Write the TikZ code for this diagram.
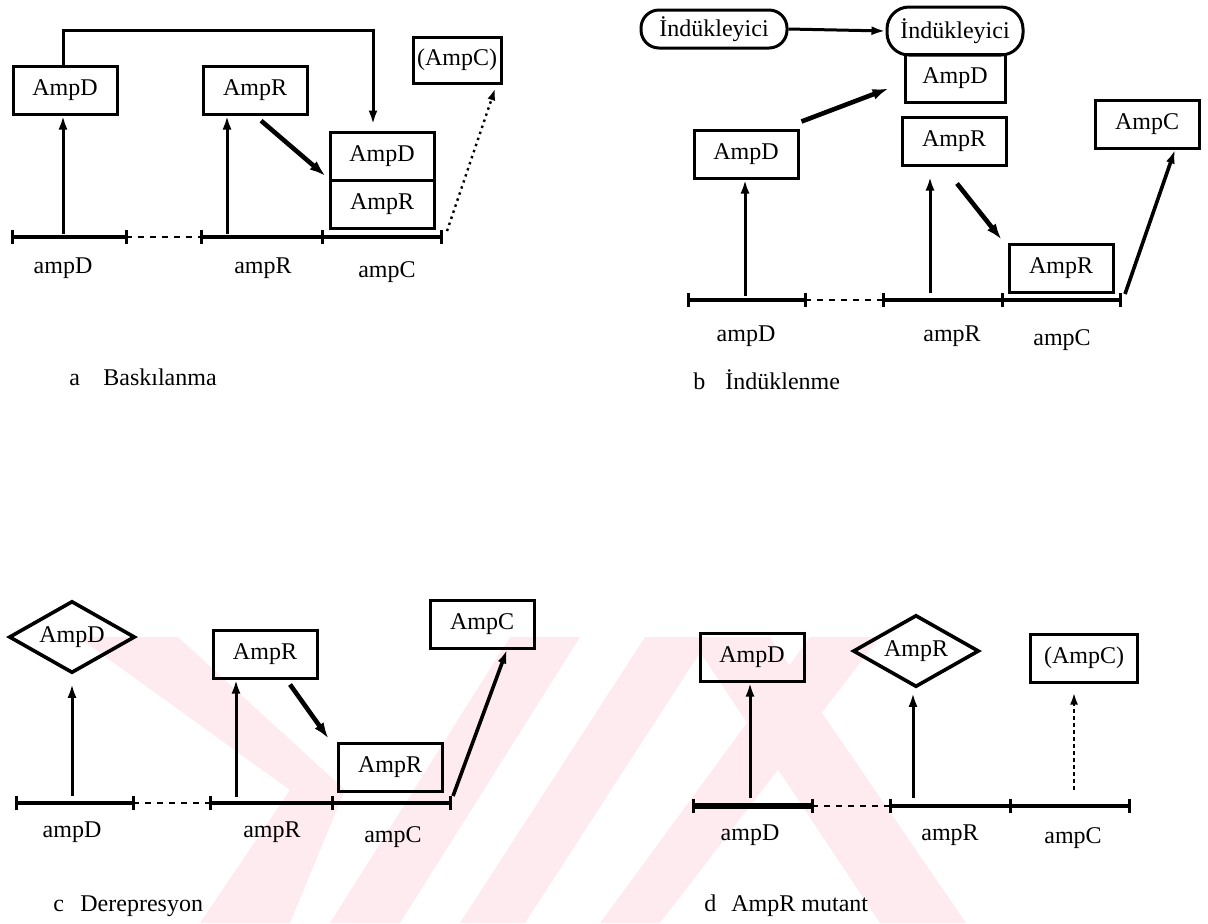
\documentclass[tikz,border=0pt]{standalone}
\usepackage{fontspec}
\setmainfont{Liberation Serif}
\usetikzlibrary{positioning, shapes.geometric, arrows.meta}

\definecolor{wmark}{RGB}{254,235,240}

\begin{document}
\begin{tikzpicture}[x=0.5pt, y=-0.5pt,
    font=\fontsize{12}{14}\selectfont,
    prot/.style={rectangle, draw, line width=1.5pt, minimum width=52pt, minimum height=24pt, inner sep=0pt},
    protmod/.style={diamond, draw, line width=1.8pt, minimum width=63pt, minimum height=36pt, inner sep=0pt, shape aspect=1.8},
    inducer/.style={rectangle, draw, line width=1.5pt, rounded corners=9pt, inner sep=0pt},
    gene/.style={line width=2.4pt},
    tick/.style={line width=1.5pt},
    gap/.style={line width=0.9pt, dash pattern=on 3pt off 3pt},
    act/.style={line width=1.5pt, -{Latex[length=7pt,width=4.5pt]}},
    bind/.style={line width=2.3pt, -{Latex[length=8pt,width=5.5pt]}},
    weak/.style={line width=1.2pt, dotted, -{Latex[length=6pt,width=4pt]}},
    weakv/.style={line width=1.2pt, dash pattern=on 2pt off 1.5pt, -{Latex[length=6pt,width=4pt]}},
    lbl/.style={inner sep=0pt},
    captxt/.style={inner sep=0pt, anchor=base west}
]
\useasboundingbox (0,0) rectangle (1208,923);

% watermark in the lower half
\fill[wmark] (78,637) -- (178,637) -- (345,790) -- (290,923) -- (200,923) -- (290,790) -- cycle;
\fill[wmark] (330,923) -- (400,923) -- (580,637) -- (510,637) -- cycle;
\fill[wmark] (460,923) -- (525,923) -- (710,637) -- (645,637) -- cycle;
\fill[wmark] (600,923) -- (660,923) -- (880,637) -- (810,637) -- cycle;
\fill[wmark] (690,637) -- (770,637) -- (966,923) -- (880,923) -- cycle;

% ---------- a: Baskilanma ----------
\node[prot] (aD) at (65,90) {AmpD};
\node[prot] (aR) at (255,90) {AmpR};
\node[prot] (aDb) at (382,156) {AmpD};
\node[prot] (aRb) at (382,204) {AmpR};
\node[prot, minimum width=44pt, minimum height=23pt] (aC) at (457,60) {(AmpC)};

\coordinate (aD0) at (12,237);
\coordinate (aD1) at (126,237);
\coordinate (aR0) at (201,237);
\coordinate (aR1) at (322,237);
\coordinate (aC1) at (441,237);
\draw[gene] (aD0) -- (aD1);
\draw[gap] (aD1) -- (aR0);
\draw[gene] (aR0) -- (aC1);
\foreach \p in {aD0,aD1,aR0,aR1,aC1}
    \draw[tick] ([yshift=3.5pt]\p) -- ([yshift=-3.5pt]\p);
\node[lbl] (aDg) at (63,268) {ampD};
\node[lbl] (aRg) at (263,268) {ampR};
\node[lbl] (aCg) at (387,272) {ampC};

\coordinate (aDx) at (63,234);
\coordinate (aRx) at (227,234);
\coordinate (aCx) at (447,231);
\draw[act] (aDx) -- (aDx |- aD.south);
\draw[act] (aRx) -- (aRx |- aR.south);
\draw[act, shorten >=3pt] ([xshift=-1pt]aD.north) -- ++(0,-34) -| ([xshift=-4.5pt]aDb.north);
\draw[bind, shorten <=4pt, shorten >=2pt] (aR.south) -- (aRb.north west);
\draw[weak, shorten >=2pt] (aCx) -- ([xshift=-3pt]aC.south east);

\node[captxt] (aLet) at (69,385) {a};
\node[captxt] (aCap) at (103,385) {Baskılanma};

% ---------- b: Induklenme ----------
\node[inducer, minimum width=73pt, minimum height=19pt] (bI1) at (714,29) {İndükleyici};
\node[inducer, minimum width=68pt, minimum height=24pt, rounded corners=11pt] (bI2) at (955,31) {İndükleyici};
\node[prot, minimum width=50pt] (bDt) at (955,78) {AmpD};
\node[prot] (bD) at (746,154) {AmpD};
\node[prot] (bR) at (954,141) {AmpR};
\node[prot] (bRb) at (1061,268) {AmpR};
\node[prot] (bC) at (1147,124) {AmpC};

\coordinate (bD0) at (688,300);
\coordinate (bD1) at (805,300);
\coordinate (bR0) at (883,300);
\coordinate (bR1) at (1002,300);
\coordinate (bC1) at (1120,300);
\draw[gene] (bD0) -- (bD1);
\draw[gap] (bD1) -- (bR0);
\draw[gene] (bR0) -- (bC1);
\foreach \p in {bD0,bD1,bR0,bR1,bC1}
    \draw[tick] ([yshift=3.5pt]\p) -- ([yshift=-3.5pt]\p);
\node[lbl] (bDg) at (746,336) {ampD};
\node[lbl] (bRg) at (952,336) {ampR};
\node[lbl] (bCg) at (1062,340) {ampC};

\coordinate (bDx) at (745,296);
\coordinate (bRx) at (930,293);
\coordinate (bCx) at (1125,294);
\draw[act] (bI1.east) -- (bI2.west);
\draw[act] (bDx) -- (bDx |- bD.south);
\draw[act, shorten >=5pt] (bRx) -- (bRx |- bR.south);
\draw[bind] ([shift={(1pt,3.5pt)}]bD.north east) -- ([shift={(-7.5pt,7.5pt)}]bDt.south west);
\draw[bind] ([shift={(1.5pt,-8.5pt)}]bR.south) -- ([shift={(-3pt,1.5pt)}]bRb.north west);
\draw[act, line width=1.8pt] (bCx) -- ([xshift=14pt]bC.south);

\node[captxt] (bLet) at (693,389) {b};
\node[captxt] (bCap) at (725,389) {İndüklenme};

% ---------- c: Derepresyon ----------
\node[protmod] (cD) at (72,637) {AmpD};
\node[prot] (cR) at (265,654) {AmpR};
\node[prot] (cRb) at (390,767) {AmpR};
\node[prot] (cC) at (482,624) {AmpC};

\coordinate (cD0) at (16,803);
\coordinate (cD1) at (133,803);
\coordinate (cR0) at (210,803);
\coordinate (cR1) at (332,803);
\coordinate (cC1) at (450,803);
\draw[gene] (cD0) -- (cD1);
\draw[gap] (cD1) -- (cR0);
\draw[gene] (cR0) -- (cC1);
\foreach \p in {cD0,cD1,cR0,cR1,cC1}
    \draw[tick] ([yshift=3.5pt]\p) -- ([yshift=-3.5pt]\p);
\node[lbl] (cDg) at (72,832) {ampD};
\node[lbl] (cRg) at (272,832) {ampR};
\node[lbl] (cCg) at (393,837) {ampC};

\coordinate (cDx) at (72,796);
\coordinate (cRx) at (236,797);
\coordinate (cCx) at (453,796);
\draw[act, shorten >=4.5pt] (cDx) -- (cD.south);
\draw[act] (cRx) -- (cRx |- cR.south);
\draw[bind] ([shift={(12.5pt,-2.5pt)}]cR.south) -- ([shift={(-4pt,1.5pt)}]cRb.north west);
\draw[act, line width=1.8pt] (cCx) -- ([xshift=12.5pt]cC.south);

\node[captxt] (cLet) at (53,911) {c};
\node[captxt] (cCap) at (80,911) {Derepresyon};

% ---------- d: AmpR mutant ----------
\node[prot] (dD) at (752,657) {AmpD};
\node[protmod] (dR) at (916,651) {AmpR};
\node[prot, minimum width=53.5pt] (dC) at (1084,658) {(AmpC)};

\coordinate (dD0) at (693,806);
\coordinate (dD1) at (812,806);
\coordinate (dR0) at (890,806);
\coordinate (dR1) at (1010,806);
\coordinate (dC1) at (1129,806);
\draw[gene, line width=3pt] (dD0) -- (dD1);
\draw[gap] (dD1) -- (dR0);
\draw[gene] (dR0) -- (dC1);
\foreach \p in {dD0,dD1,dR0,dR1,dC1}
    \draw[tick] ([yshift=3.5pt]\p) -- ([yshift=-3.5pt]\p);
\node[lbl] (dDg) at (750,835) {ampD};
\node[lbl] (dRg) at (950,835) {ampR};
\node[lbl] (dCg) at (1073,838) {ampC};

\coordinate (dDx) at (750,798);
\coordinate (dRx) at (913,798);
\coordinate (dCx) at (1074,790);
\draw[act] (dDx) -- (dDx |- dD.south);
\draw[act, shorten >=2pt] (dRx) -- (dRx |- dR.south);
\draw[weakv, shorten >=4.5pt] (dCx) -- (dCx |- dC.south);

\node[captxt] (dLet) at (704,911) {d};
\node[captxt] (dCap) at (731,911) {AmpR mutant};

\end{tikzpicture}
\end{document}
